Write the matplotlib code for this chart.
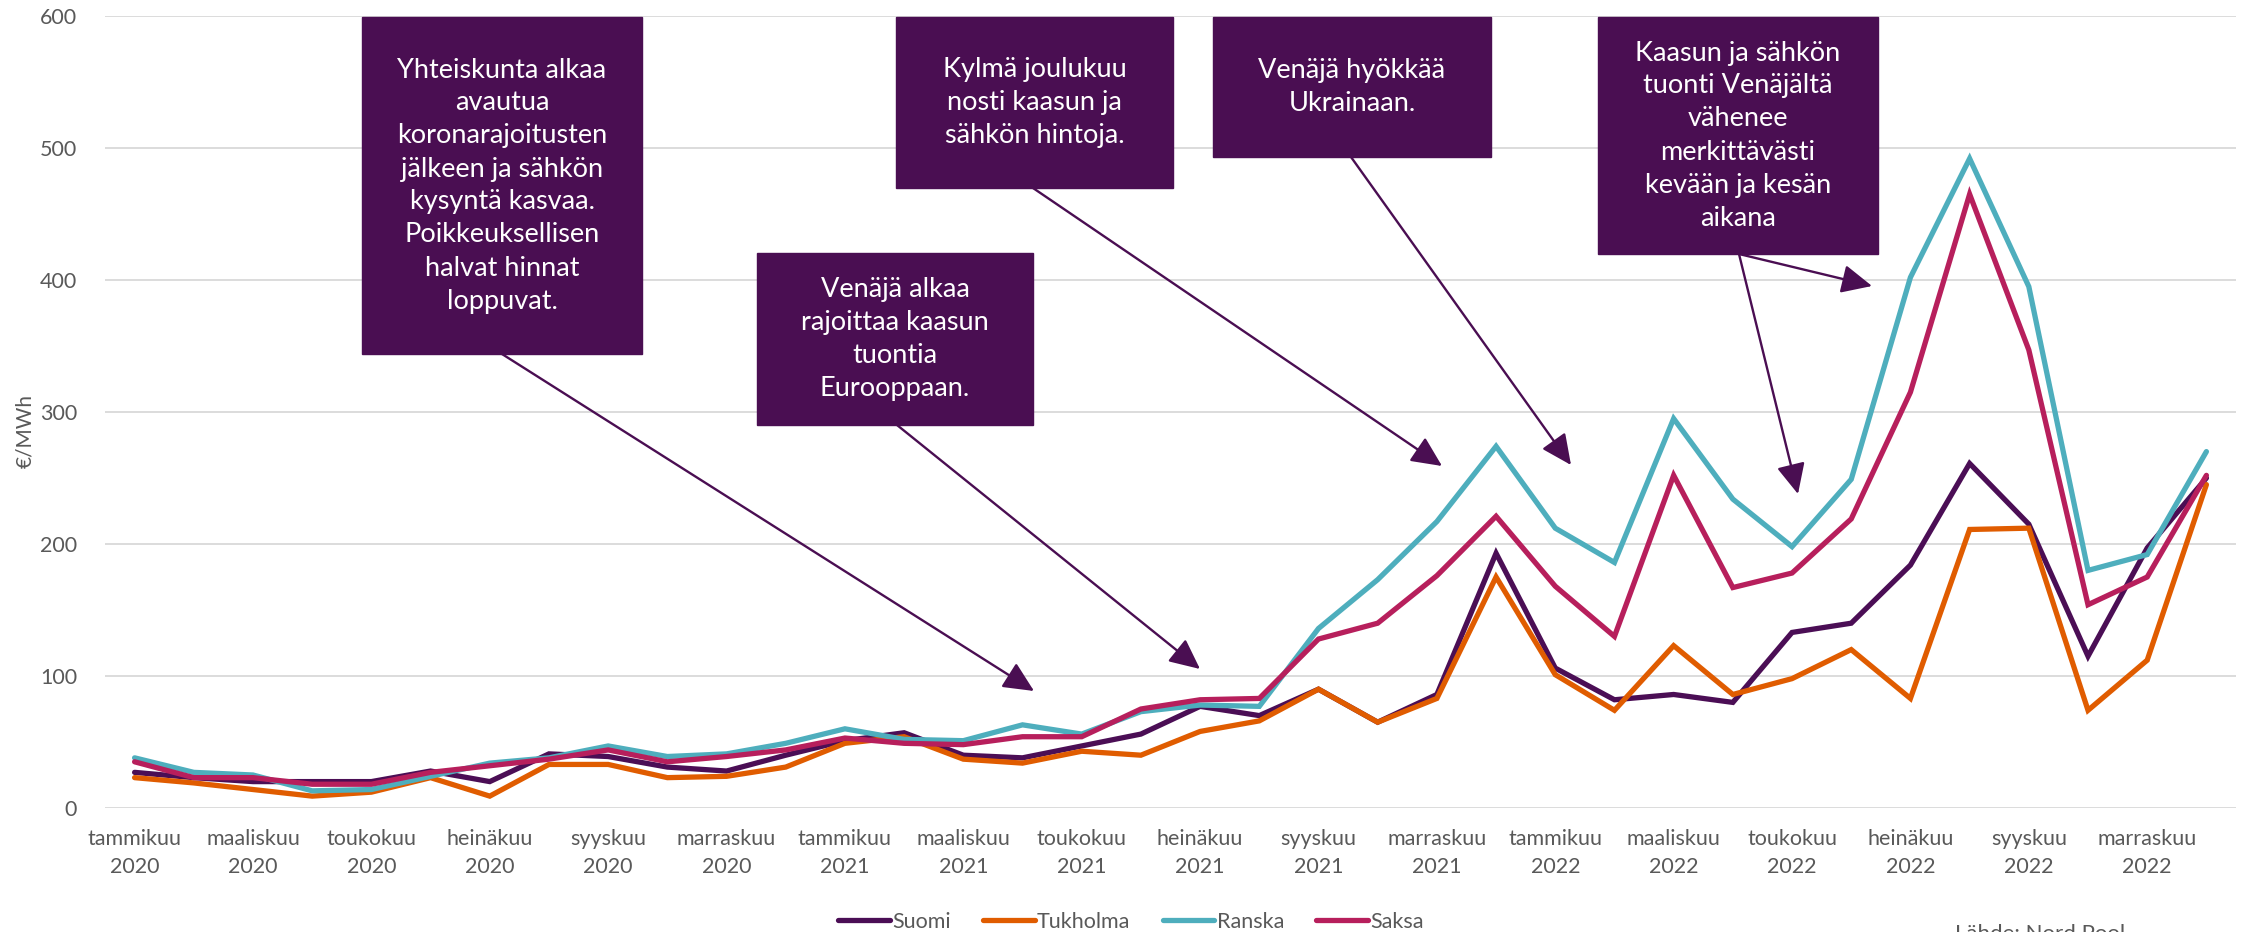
import matplotlib.pyplot as plt
from matplotlib.patches import Rectangle

plt.rcParams['font.family'] = ['Lato', 'DejaVu Sans']

kuukaudet = ['tammikuu', 'helmikuu', 'maaliskuu', 'huhtikuu', 'toukokuu', 'kesäkuu',
             'heinäkuu', 'elokuu', 'syyskuu', 'lokakuu', 'marraskuu', 'joulukuu']
vuodet = [2020, 2021, 2022]

# €/MWh, kuukausikeskiarvot tammikuu 2020 - joulukuu 2022
suomi = [27, 23, 20, 20, 20, 28, 20, 41, 39, 31, 28, 40,
         51, 57, 40, 38, 47, 56, 77, 70, 90, 65, 86, 193,
         106, 82, 86, 80, 133, 140, 184, 261, 215, 115, 197, 250]
tukholma = [23, 19, 14, 9, 12, 23, 9, 33, 33, 23, 24, 31,
            49, 54, 37, 34, 43, 40, 58, 66, 90, 65, 83, 175,
            101, 74, 123, 86, 98, 120, 83, 211, 212, 74, 112, 245]
ranska = [38, 27, 25, 13, 14, 24, 34, 38, 47, 39, 41, 49,
          60, 52, 51, 63, 56, 73, 78, 77, 136, 173, 217, 274,
          212, 186, 295, 234, 198, 249, 402, 492, 395, 180, 192, 270]
saksa = [35, 23, 23, 18, 18, 27, 32, 37, 44, 35, 39, 44,
         53, 49, 48, 54, 54, 75, 82, 83, 128, 140, 176, 221,
         168, 130, 252, 167, 178, 219, 315, 465, 347, 154, 175, 252]

sarjat = ['Suomi', 'Tukholma', 'Ranska', 'Saksa']
varit = ['#4B0E55', '#E05C00', '#4EAEBD', '#B71F5C']
laatikko = '#4A0E52'
harmaa = '#595959'

W, H = 2244, 932
fig = plt.figure(figsize=(W / 100, H / 100), dpi=100)
ax = fig.add_axes([105 / W, 1 - 808 / H, 2131 / W, 792 / H])

x = list(range(36))
for nimi, arvot, vari in zip(sarjat, [suomi, tukholma, ranska, saksa], varit):
    ax.plot(x, arvot, color=vari, lw=3.8, label=nimi, solid_joinstyle='miter',
            solid_capstyle='round')

ax.set_xlim(-0.5, 35.5)
ax.set_ylim(0, 600)
ax.set_yticks(range(0, 601, 100))
ax.set_xticks(x[::2])
ax.set_xticklabels([f'{kuukaudet[i % 12]}\n{vuodet[i // 12]}' for i in x[::2]],
                   linespacing=1.5)
ax.tick_params(length=0, labelsize=15.5, colors=harmaa)
ax.tick_params(axis='y', pad=20)
ax.tick_params(axis='x', pad=15)
ax.grid(axis='y', color='#D9D9D9', lw=1.3)
ax.set_axisbelow(True)
for s in ax.spines.values():
    s.set_visible(False)

fig.text(25 / W, 1 - 431 / H, '€/MWh', rotation=90, ha='center', va='center',
         fontsize=15, color=harmaa)

ax.legend(loc='center', bbox_to_anchor=(1131 / W, 1 - 922 / H),
          bbox_transform=fig.transFigure, ncol=4, frameon=False, fontsize=15.5,
          handlelength=2.4, handletextpad=0.1, columnspacing=1.5,
          labelcolor=harmaa)

fig.text(1955 / W, 8 / H, 'Lähde: Nord Pool', ha='left', va='top',
         fontsize=16, color=harmaa)

# selitelaatikot (x0, y0, x1, y1 kuvan pikseleinä)
laatikot = [
    ((362, 17, 642, 354), 'Yhteiskunta alkaa\navautua\nkoronarajoitusten\njälkeen ja sähkön\n'
                          'kysyntä kasvaa.\nPoikkeuksellisen\nhalvat hinnat\nloppuvat.'),
    ((757, 253, 1033, 425), 'Venäjä alkaa\nrajoittaa kaasun\ntuontia\nEurooppaan.'),
    ((896, 17, 1173, 188), 'Kylmä joulukuu\nnosti kaasun ja\nsähkön hintoja.'),
    ((1213, 17, 1491, 157), 'Venäjä hyökkää\nUkrainaan.'),
    ((1598, 17, 1878, 254), 'Kaasun ja sähkön\ntuonti Venäjältä\nvähenee\nmerkittävästi\n'
                            'kevään ja kesän\naikana'),
]
for (x0, y0, x1, y1), teksti in laatikot:
    fig.add_artist(Rectangle((x0 / W, 1 - y1 / H), (x1 - x0) / W, (y1 - y0) / H,
                             transform=fig.transFigure, color=laatikko, zorder=5))
    fig.text((x0 + x1) / 2 / W, 1 - (y0 + y1) / 2 / H, teksti, ha='center', va='center',
             color='white', fontsize=19.5, linespacing=1.4, zorder=6)

nuolet = [
    ((502, 354), (1034, 691)),
    ((897, 425), (1200, 669)),
    ((1033, 188), (1442, 466)),
    ((1351, 157), (1571, 465)),
    ((1739, 254), (1872, 286)),
    ((1739, 254), (1798, 494)),
]
for (xa, ya), (xb, yb) in nuolet:
    ax.annotate('', xy=(xb, H - yb), xytext=(xa, H - ya),
                xycoords='figure pixels', textcoords='figure pixels',
                arrowprops=dict(arrowstyle='-|>,head_length=0.85,head_width=0.4',
                                color=laatikko, lw=1.7, shrinkA=0, shrinkB=0,
                                mutation_scale=22),
                annotation_clip=False)

fig.savefig('out.png', dpi=100)
